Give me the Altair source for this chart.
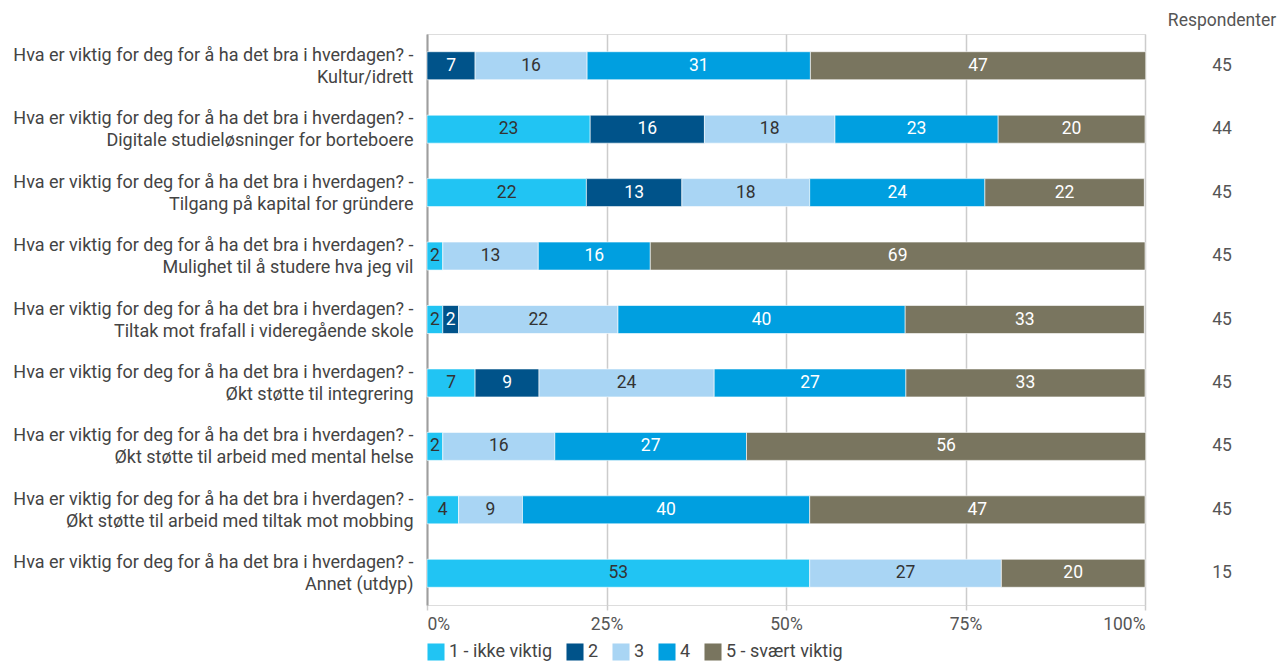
import altair as alt
import pandas as pd

prefix = "Hva er viktig for deg for å ha det bra i hverdagen? -|"
topics = [
    "Kultur/idrett",
    "Digitale studieløsninger for borteboere",
    "Tilgang på kapital for gründere",
    "Mulighet til å studere hva jeg vil",
    "Tiltak mot frafall i videregående skole",
    "Økt støtte til integrering",
    "Økt støtte til arbeid med mental helse",
    "Økt støtte til arbeid med tiltak mot mobbing",
    "Annet (utdyp)",
]
categories = [prefix + t for t in topics]

levels = ["1 - ikke viktig", "2", "3", "4", "5 - svært viktig"]
level_colors = ["#21c4f3", "#00538a", "#a9d5f4", "#009fe0", "#79755f"]
label_colors = ["#333333", "#ffffff", "#333333", "#ffffff", "#ffffff"]

# percentage share per level (1..5) for each category
level1 = [0, 22.73, 22.2, 2.2, 2.2, 6.7, 2.2, 4.4, 53.3]
level2 = [6.7, 15.91, 13.3, 0, 2.2, 8.9, 0, 0, 0]
level3 = [15.6, 18.18, 17.8, 13.3, 22.2, 24.4, 15.6, 8.9, 26.7]
level4 = [31.1, 22.73, 24.4, 15.6, 40.0, 26.7, 26.7, 40.0, 0]
level5 = [46.7, 20.45, 22.2, 68.9, 33.3, 33.3, 55.6, 46.7, 20.0]
respondents = [45, 44, 45, 45, 45, 45, 45, 45, 15]

series = [level1, level2, level3, level4, level5]
rows = []
for i, cat in enumerate(categories):
    acc = 0.0
    for j, lev in enumerate(levels):
        v = series[j][i]
        if v <= 0:
            continue
        rows.append({
            "cat": cat, "level": lev, "order": j,
            "x0": acc, "x1": acc + v, "mid": acc + v / 2,
            "label": str(int(round(v))), "tcolor": label_colors[j],
        })
        acc += v
df = pd.DataFrame(rows)
df_n = pd.DataFrame({"cat": categories, "n": respondents})
df_h = pd.DataFrame({"h": ["Respondenter"]})

FONT = "Roboto"
FS = 17.5
W = 718
H = 571
RX = W + 77

y_enc = alt.Y(
    "cat:N", sort=categories, title=None,
    scale=alt.Scale(paddingInner=0, paddingOuter=0),
    axis=alt.Axis(
        labelExpr="split(datum.label, '|')", labelLineHeight=22,
        labelFontSize=18, labelColor="#444444", labelLimit=600,
        labelPadding=14, labelOffset=-10, ticks=False, grid=False,
        domainColor="#9e9e9e", domainWidth=2, labelFont=FONT,
    ),
)

bars = alt.Chart(df).mark_bar(size=28, stroke="white", strokeWidth=0.6).encode(
    y=y_enc,
    x=alt.X(
        "x0:Q", title=None,
        scale=alt.Scale(domain=[0, 100], nice=False, zero=True),
        axis=alt.Axis(
            values=[0, 25, 50, 75, 100], labelExpr="datum.value + '%'",
            labelFlush=True, labelFontSize=FS, labelColor="#555555",
            grid=True, gridColor="#cccccc", gridWidth=1.5,
            domain=False, ticks=True, tickColor="#cccccc", tickSize=5,
            tickWidth=1.5, labelPadding=5, labelFont=FONT,
        ),
    ),
    x2="x1:Q",
    color=alt.Color(
        "level:N",
        scale=alt.Scale(domain=levels, range=level_colors),
        legend=alt.Legend(
            orient="bottom", title=None, direction="horizontal",
            labelFontSize=18, labelColor="#444444", labelFont=FONT,
            symbolType="square", symbolSize=290, symbolStrokeWidth=0,
            columnPadding=13, offset=10,
        ),
    ),
    order=alt.Order("order:Q"),
)

labels = alt.Chart(df).mark_text(fontSize=FS, font=FONT).encode(
    y=alt.Y("cat:N", sort=categories),
    x=alt.X("mid:Q"),
    text="label:N",
    color=alt.Color("tcolor:N", scale=None),
)

resp = alt.Chart(df_n).mark_text(fontSize=FS, font=FONT, color="#555555").encode(
    y=alt.Y("cat:N", sort=categories),
    x=alt.value(RX),
    text="n:Q",
)

header = alt.Chart(df_h).mark_text(fontSize=FS, font=FONT, color="#555555").encode(
    x=alt.value(RX),
    y=alt.value(-13),
    text="h:N",
)

chart = alt.layer(bars, labels, resp, header).properties(
    width=W, height=H,
    padding={"left": 4, "top": 4, "right": 0, "bottom": 0},
).configure_view(stroke=None).configure(font=FONT)

chart.save("out.html", embed_options={"renderer": "svg", "actions": False})
